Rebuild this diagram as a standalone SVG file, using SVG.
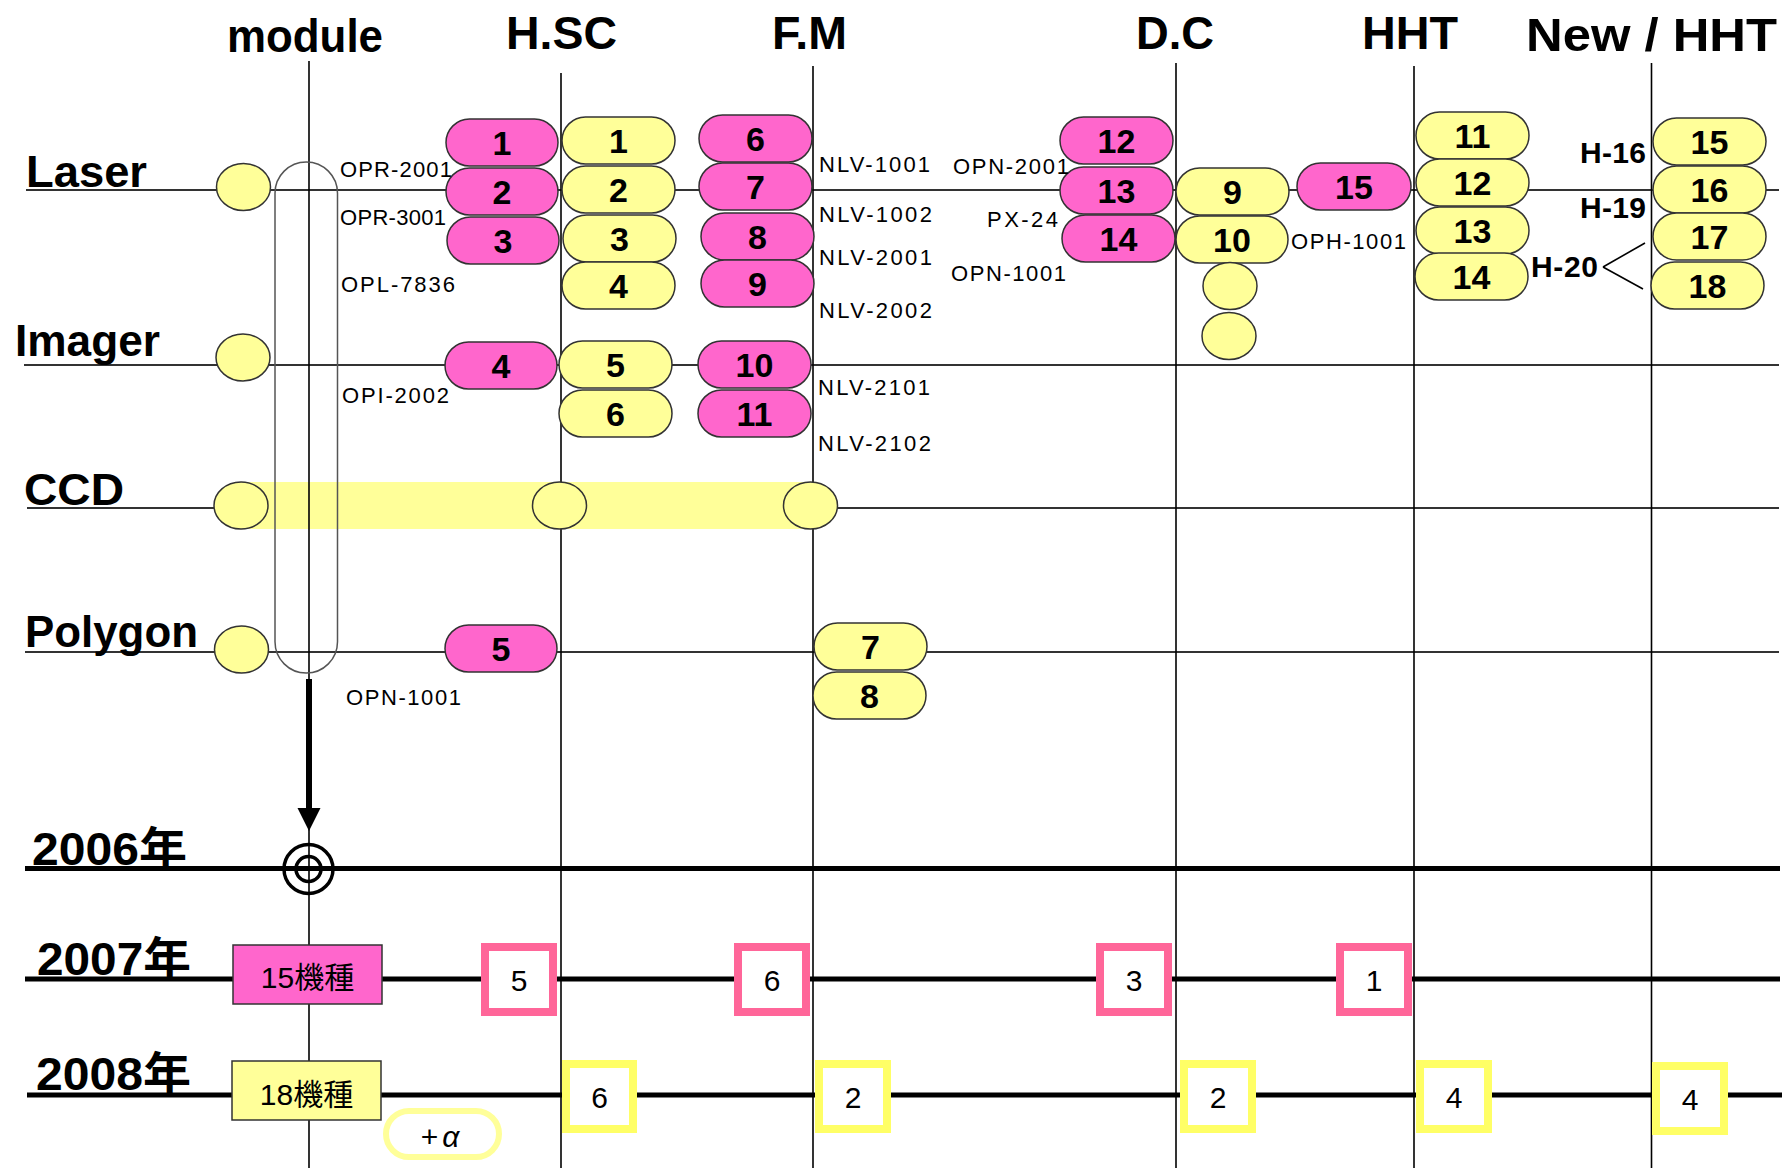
<svg xmlns="http://www.w3.org/2000/svg" width="1792" height="1168" viewBox="0 0 1792 1168">
<defs>
<style>
.col{stroke:#000;stroke-width:1.6;fill:none}
.row{stroke:#333;stroke-width:2;fill:none}
.yr{stroke:#000;stroke-width:5;fill:none}
.pp{fill:#FF66CC;stroke:#333;stroke-width:1.5}
.yp{fill:#FFFF99;stroke:#333;stroke-width:1.5}
.cbp{fill:#fff;stroke:#FF6699;stroke-width:8}
.cby{fill:#fff;stroke:#FFFF66;stroke-width:8}
text{font-family:"Liberation Sans","Noto Sans CJK JP",sans-serif;fill:#000}
.num{font-weight:bold;font-size:34px;text-anchor:middle}
.hdr{font-weight:bold;font-size:47px}
.lbl{font-weight:bold;font-size:45px}
.yrl{font-weight:bold;font-size:46px}
.sm{font-size:22px}
.hl{font-weight:bold;font-size:30px}
.cnt{font-size:30px;text-anchor:middle}
.kn{font-size:30px;text-anchor:middle}
</style>
</defs>
<rect width="1792" height="1168" fill="#fff"/>

<g id="connectors">
  <rect x="241" y="482" width="571" height="47" fill="#FFFF99"/>
  <line class="row" x1="26" y1="190" x2="1779" y2="190"/>
  <line class="row" x1="24" y1="365" x2="1779" y2="365"/>
  <line class="row" x1="27" y1="508" x2="214" y2="508"/>
  <line class="row" x1="837" y1="508" x2="1779" y2="508"/>
  <line class="row" x1="25" y1="652" x2="1779" y2="652"/>
  <line class="col" x1="309" y1="61" x2="309" y2="1168"/>
  <line class="col" x1="561" y1="73" x2="561" y2="1168"/>
  <line class="col" x1="813" y1="66" x2="813" y2="1168"/>
  <line class="col" x1="1176" y1="63" x2="1176" y2="1168"/>
  <line class="col" x1="1414" y1="66" x2="1414" y2="1168"/>
  <line class="col" x1="1651.5" y1="63" x2="1651.5" y2="1168"/>
  <rect x="275" y="162" width="62.5" height="511" rx="31.25" ry="31.25" fill="none" stroke="#555" stroke-width="1.5"/>
  <line class="yr" x1="25" y1="868.5" x2="1780" y2="868.5"/>
  <line class="yr" x1="25" y1="979" x2="1780" y2="979"/>
  <line class="yr" x1="27" y1="1095" x2="1782" y2="1095"/>
  <line x1="309" y1="679" x2="309" y2="812" stroke="#000" stroke-width="6"/>
  <polygon points="297.5,808 320.5,808 309,831" fill="#000"/>
  <line x1="1603" y1="267" x2="1645" y2="243" stroke="#000" stroke-width="1.6"/>
  <line x1="1603" y1="267" x2="1643" y2="289" stroke="#000" stroke-width="1.6"/>
</g>

<g id="headers">
  <text class="hdr" x="227" y="52" textLength="156" lengthAdjust="spacingAndGlyphs">module</text>
  <text class="hdr" x="506" y="49" textLength="111" lengthAdjust="spacingAndGlyphs">H.SC</text>
  <text class="hdr" x="772" y="49" textLength="75" lengthAdjust="spacingAndGlyphs">F.M</text>
  <text class="hdr" x="1136" y="49" textLength="78" lengthAdjust="spacingAndGlyphs">D.C</text>
  <text class="hdr" x="1362" y="49" textLength="96" lengthAdjust="spacingAndGlyphs">HHT</text>
  <text class="hdr" x="1526" y="51" textLength="251" lengthAdjust="spacingAndGlyphs">New / HHT</text>
</g>

<g id="row-labels">
  <text class="lbl" x="26" y="187" textLength="121" lengthAdjust="spacingAndGlyphs">Laser</text>
  <text class="lbl" x="15" y="356" textLength="145" lengthAdjust="spacingAndGlyphs">Imager</text>
  <text class="lbl" x="24" y="505" textLength="100" lengthAdjust="spacingAndGlyphs">CCD</text>
  <text class="lbl" x="25" y="647" textLength="173" lengthAdjust="spacingAndGlyphs">Polygon</text>
</g>

<g id="module-nodes">
  <ellipse class="yp" cx="243.5" cy="187" rx="27" ry="23.5"/>
  <ellipse class="yp" cx="243" cy="357.5" rx="27" ry="23.5"/>
  <ellipse class="yp" cx="241" cy="505.5" rx="27" ry="23.5"/>
  <ellipse class="yp" cx="241.5" cy="649.5" rx="27" ry="23.5"/>
  <ellipse class="yp" cx="559.5" cy="505.5" rx="27" ry="23.5"/>
  <ellipse class="yp" cx="810.5" cy="505.5" rx="27" ry="23.5"/>
</g>

<g id="hsc-pink">
  <rect class="pp" x="446" y="119" width="112" height="47" rx="23.5"/><text class="num" x="502" y="154.5">1</text>
  <rect class="pp" x="446" y="168" width="112" height="47" rx="23.5"/><text class="num" x="502" y="203.5">2</text>
  <rect class="pp" x="447" y="217" width="112" height="47" rx="23.5"/><text class="num" x="503" y="252.5">3</text>
  <rect class="pp" x="445" y="342" width="112" height="47" rx="23.5"/><text class="num" x="501" y="377.5">4</text>
  <rect class="pp" x="445" y="625" width="112" height="47" rx="23.5"/><text class="num" x="501" y="660.5">5</text>
</g>

<g id="hsc-yellow">
  <rect class="yp" x="562" y="117" width="113" height="47" rx="23.5"/><text class="num" x="618.5" y="152.5">1</text>
  <rect class="yp" x="562" y="166" width="113" height="47" rx="23.5"/><text class="num" x="618.5" y="201.5">2</text>
  <rect class="yp" x="563" y="215" width="113" height="47" rx="23.5"/><text class="num" x="619.5" y="250.5">3</text>
  <rect class="yp" x="562" y="262" width="113" height="47" rx="23.5"/><text class="num" x="618.5" y="297.5">4</text>
  <rect class="yp" x="559" y="341" width="113" height="47" rx="23.5"/><text class="num" x="615.5" y="376.5">5</text>
  <rect class="yp" x="559" y="390" width="113" height="47" rx="23.5"/><text class="num" x="615.5" y="425.5">6</text>
</g>

<g id="fm-pink">
  <rect class="pp" x="699" y="115" width="113" height="47" rx="23.5"/><text class="num" x="755.5" y="150.5">6</text>
  <rect class="pp" x="699" y="163" width="113" height="47" rx="23.5"/><text class="num" x="755.5" y="198.5">7</text>
  <rect class="pp" x="701" y="213" width="113" height="47" rx="23.5"/><text class="num" x="757.5" y="248.5">8</text>
  <rect class="pp" x="701" y="260" width="113" height="47" rx="23.5"/><text class="num" x="757.5" y="295.5">9</text>
  <rect class="pp" x="698" y="341" width="113" height="47" rx="23.5"/><text class="num" x="754.5" y="376.5">10</text>
  <rect class="pp" x="698" y="390" width="113" height="47" rx="23.5"/><text class="num" x="754.5" y="425.5">11</text>
</g>

<g id="fm-yellow">
  <rect class="yp" x="814" y="623" width="113" height="47" rx="23.5"/><text class="num" x="870.5" y="658.5">7</text>
  <rect class="yp" x="813" y="672" width="113" height="47" rx="23.5"/><text class="num" x="869.5" y="707.5">8</text>
</g>

<g id="dc-pink">
  <rect class="pp" x="1060" y="117" width="113" height="47" rx="23.5"/><text class="num" x="1116.5" y="152.5">12</text>
  <rect class="pp" x="1060" y="167" width="113" height="47" rx="23.5"/><text class="num" x="1116.5" y="202.5">13</text>
  <rect class="pp" x="1062" y="215" width="113" height="47" rx="23.5"/><text class="num" x="1118.5" y="250.5">14</text>
</g>

<g id="dc-yellow">
  <rect class="yp" x="1176" y="168" width="113" height="47" rx="23.5"/><text class="num" x="1232.5" y="203.5">9</text>
  <rect class="yp" x="1176" y="216" width="112" height="47" rx="23.5"/><text class="num" x="1232" y="251.5">10</text>
  <ellipse class="yp" cx="1230" cy="286" rx="27" ry="23.5"/>
  <ellipse class="yp" cx="1229" cy="336" rx="27" ry="23.5"/>
</g>

<g id="dc-pink-15">
  <rect class="pp" x="1297" y="163" width="114" height="47" rx="23.5"/><text class="num" x="1354" y="198.5">15</text>
</g>

<g id="hht-yellow">
  <rect class="yp" x="1416" y="112" width="113" height="47" rx="23.5"/><text class="num" x="1472.5" y="147.5">11</text>
  <rect class="yp" x="1416" y="159" width="113" height="47" rx="23.5"/><text class="num" x="1472.5" y="194.5">12</text>
  <rect class="yp" x="1416" y="207" width="113" height="47" rx="23.5"/><text class="num" x="1472.5" y="242.5">13</text>
  <rect class="yp" x="1415" y="253" width="113" height="47" rx="23.5"/><text class="num" x="1471.5" y="288.5">14</text>
</g>

<g id="new-yellow">
  <rect class="yp" x="1653" y="118" width="113" height="47" rx="23.5"/><text class="num" x="1709.5" y="153.5">15</text>
  <rect class="yp" x="1653" y="166" width="113" height="47" rx="23.5"/><text class="num" x="1709.5" y="201.5">16</text>
  <rect class="yp" x="1653" y="213" width="113" height="47" rx="23.5"/><text class="num" x="1709.5" y="248.5">17</text>
  <rect class="yp" x="1651" y="262" width="113" height="47" rx="23.5"/><text class="num" x="1707.5" y="297.5">18</text>
</g>

<g id="part-labels">
  <text class="sm" x="340" y="177" textLength="112">OPR-2001</text>
  <text class="sm" x="340" y="225" textLength="106">OPR-3001</text>
  <text class="sm" x="341" y="292" textLength="114">OPL-7836</text>
  <text class="sm" x="342" y="403" textLength="107">OPI-2002</text>
  <text class="sm" x="346" y="705" textLength="115">OPN-1001</text>
  <text class="sm" x="819" y="172" textLength="111">NLV-1001</text>
  <text class="sm" x="819" y="222" textLength="113">NLV-1002</text>
  <text class="sm" x="819" y="265" textLength="113">NLV-2001</text>
  <text class="sm" x="819" y="318" textLength="113">NLV-2002</text>
  <text class="sm" x="818" y="395" textLength="112">NLV-2101</text>
  <text class="sm" x="818" y="451" textLength="113">NLV-2102</text>
  <text class="sm" x="953" y="174" textLength="116">OPN-2001</text>
  <text class="sm" x="987" y="227" textLength="71">PX-24</text>
  <text class="sm" x="951" y="281" textLength="115">OPN-1001</text>
  <text class="sm" x="1291" y="249" textLength="115">OPH-1001</text>
  <text class="hl" x="1580" y="163" textLength="66">H-16</text>
  <text class="hl" x="1580" y="218" textLength="66">H-19</text>
  <text class="hl" x="1531" y="277" textLength="67">H-20</text>
</g>

<g id="target">
  <circle cx="308.5" cy="869" r="24.5" fill="none" stroke="#000" stroke-width="3.5"/>
  <circle cx="308.5" cy="869" r="12.5" fill="none" stroke="#000" stroke-width="3.5"/>
</g>

<g id="year-labels">
  <text class="yrl" x="32" y="865" textLength="155" lengthAdjust="spacingAndGlyphs">2006年</text>
  <text class="yrl" x="37" y="975" textLength="154" lengthAdjust="spacingAndGlyphs">2007年</text>
  <text class="yrl" x="36" y="1090" textLength="155" lengthAdjust="spacingAndGlyphs">2008年</text>
</g>

<g id="total-2007">
  <rect x="233" y="945" width="149" height="59" fill="#FF66CC" stroke="#333" stroke-width="1.5"/>
  <text class="kn" x="307.5" y="988">15機種</text>
</g>
<g id="total-2008">
  <rect x="232" y="1061" width="149" height="59" fill="#FFFF99" stroke="#333" stroke-width="1.5"/>
  <text class="kn" x="306.5" y="1105">18機種</text>
</g>
<g id="plus-alpha">
  <rect x="386" y="1111" width="113" height="46" rx="23" fill="#fff" stroke="#FFFF99" stroke-width="6"/>
  <text class="kn" x="440" y="1147">+<tspan dx="4" font-style="italic">α</tspan></text>
</g>

<g id="counts-2007">
  <rect class="cbp" x="485" y="947" width="68" height="65"/><text class="cnt" x="519" y="990.5">5</text>
  <rect class="cbp" x="738" y="947" width="68" height="65"/><text class="cnt" x="772" y="990.5">6</text>
  <rect class="cbp" x="1100" y="947" width="68" height="65"/><text class="cnt" x="1134" y="990.5">3</text>
  <rect class="cbp" x="1340" y="947" width="68" height="65"/><text class="cnt" x="1374" y="990.5">1</text>
</g>
<g id="counts-2008">
  <rect class="cby" x="566" y="1064" width="67" height="65"/><text class="cnt" x="599.5" y="1107.5">6</text>
  <rect class="cby" x="819" y="1064" width="68" height="65"/><text class="cnt" x="853" y="1107.5">2</text>
  <rect class="cby" x="1184" y="1064" width="68" height="65"/><text class="cnt" x="1218" y="1107.5">2</text>
  <rect class="cby" x="1420" y="1064" width="68" height="65"/><text class="cnt" x="1454" y="1107.5">4</text>
  <rect class="cby" x="1656" y="1066" width="68" height="65"/><text class="cnt" x="1690" y="1109.5">4</text>
</g>
</svg>
